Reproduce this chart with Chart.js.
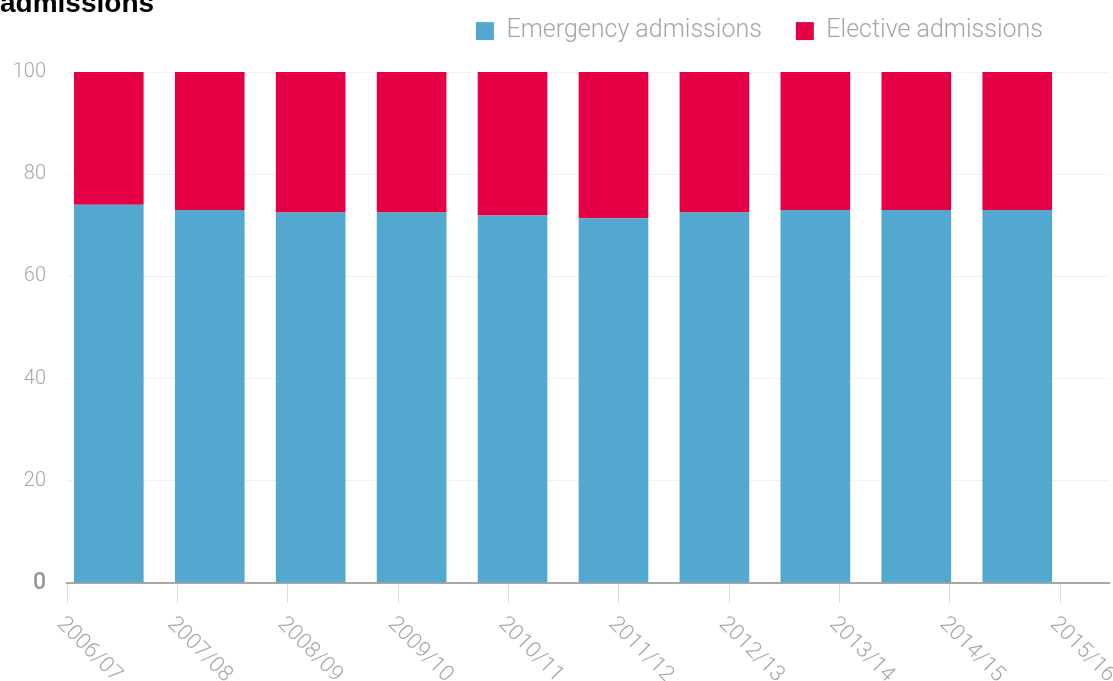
<!DOCTYPE html>
<html><head><meta charset="utf-8">
<script src="https://cdn.jsdelivr.net/npm/chart.js@4/dist/chart.umd.min.js"></script>
<style>html,body{margin:0;padding:0;background:#fff;overflow:hidden}#wrap{width:1113px;height:681px;position:relative}</style>
</head><body><div id="wrap"><canvas id="c" width="1113" height="681"></canvas></div>
<script>
const titleText = 'admissions';
const categories = ['2006/07','2007/08','2008/09','2009/10','2010/11','2011/12','2012/13','2013/14','2014/15','2015/16'];
const seriesNames = ['Emergency admissions','Elective admissions'];
const emergency = [74.0, 73.0, 72.5, 72.5, 71.9, 71.4, 72.5, 73.0, 73.0, 73.0];
const elective  = [26.0, 27.0, 27.5, 27.5, 28.1, 28.6, 27.5, 27.0, 27.0, 27.0];
const yTicks = [0, 20, 40, 60, 80, 100];
const colors = ['#52a8ce', '#e50046'];

const GRAY = '#aaa5a3';
const FONT = 'Roboto';

const legendTweak = {
  id: 'legendTweak',
  beforeLayout(chart) {
    const lg = chart.legend;
    if (lg && !lg._patched) {
      const orig = lg.fit;
      lg.fit = function () { orig.call(this); this.height = 51.4; };
      lg._patched = true;
    }
  },
  afterLayout(chart) {
    const lg = chart.legend;
    const dx = -32, dy = -36;
    lg.left += dx; lg.right += dx; lg.top += dy;
  }
};

const xLabels = {
  id: 'xLabels',
  afterDraw(chart) {
    const s = chart.scales.x;
    const ctx = chart.ctx;
    ctx.save();
    ctx.font = '300 22px ' + FONT;
    ctx.fillStyle = GRAY;
    ctx.textAlign = 'left';
    ctx.textBaseline = 'top';
    s.ticks.forEach((t, i) => {
      const px = s.getPixelForTick(i);
      ctx.save();
      ctx.translate(px + 1, s.top + 30);
      ctx.rotate(Math.PI / 4);
      ctx.fillText(t.label, 0, 0);
      ctx.restore();
    });
    ctx.restore();
  }
};

new Chart(document.getElementById('c'), {
  type: 'bar',
  data: {
    datasets: [
      { label: seriesNames[0], data: emergency.map((v, i) => ({x: i, y: v})), backgroundColor: colors[0], xAxisID: 'xb', yAxisID: 'y', borderWidth: 0 },
      { label: seriesNames[1], data: elective.map((v, i) => ({x: i, y: v})), backgroundColor: colors[1], xAxisID: 'xb', yAxisID: 'y', borderWidth: 0 }
    ]
  },
  options: {
    responsive: false,
    animation: false,
    devicePixelRatio: 1,
    barPercentage: 0.69,
    categoryPercentage: 1,
    layout: { padding: { left: 0, right: 4, top: 0, bottom: 0 } },
    plugins: {
      title: {
        display: true, text: titleText, align: 'start', color: '#000',
        font: { family: 'Liberation Sans', size: 28, weight: 'bold', lineHeight: 1.2 },
        padding: { top: -13, bottom: 0 }
      },
      legend: {
        display: true, position: 'top', align: 'end',
        labels: { boxWidth: 18, boxHeight: 18, padding: 34, color: GRAY,
          font: { family: FONT, size: 25, weight: '300' } }
      },
      tooltip: { enabled: false }
    },
    scales: {
      x: {
        type: 'linear', position: 'bottom', min: 0, max: 9.444, offset: false,
        ticks: { stepSize: 1, includeBounds: false, display: false, callback: v => categories[v] },
        grid: { offset: false, drawOnChartArea: false, drawTicks: true, tickLength: 20, tickColor: '#dedad8', tickWidth: 1 },
        border: { display: true, color: '#aca7a5', width: 2 },
        afterFit(s) { s.height = 98; }
      },
      xb: {
        type: 'linear', display: false, min: -0.414, max: 9.909, stacked: true, offset: false,
        grid: { offset: false }
      },
      y: {
        stacked: true, min: 0, max: 100,
        afterBuildTicks(s) { s.ticks = yTicks.map(v => ({ value: v })); },
        ticks: {
          padding: 21,
          color: c => c.tick && c.tick.value === 0 ? '#9b9593' : GRAY,
          font: c => c.tick && c.tick.value === 0 ? { family: FONT, size: 23, weight: '500' } : { family: FONT, size: 20, weight: '300' }
        },
        grid: { color: '#f2f0f0', drawTicks: false, lineWidth: 1 },
        border: { display: false },
        afterFit(s) { s.width = 67; }
      }
    }
  },
  plugins: [legendTweak, xLabels]
});
</script></body></html>
